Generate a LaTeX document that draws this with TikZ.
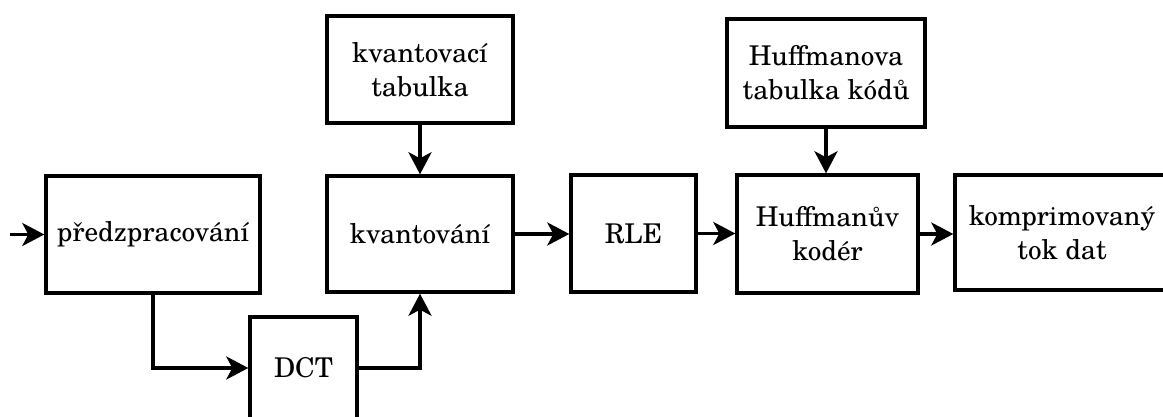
\documentclass[tikz,border=0pt]{standalone}
\usepackage{fontspec}
\setmainfont{texgyreschola}[Extension=.otf, UprightFont=*-regular, BoldFont=*-bold]
\usetikzlibrary{arrows.meta}
\begin{document}
\begin{tikzpicture}[x=0.5pt, y=-0.5pt,
  blok/.style={draw, line width=1.7pt, inner sep=0pt, align=center,
    font=\fontsize{13.6}{17}\selectfont},
  tok/.style={line width=1.7pt, -{Stealth[length=11pt, width=11.5pt, inset=3pt]}}]
\useasboundingbox (0,0) rectangle (1163,417);
% processing blocks
\node[blok, minimum width=107pt, minimum height=58.5pt] (pre) at (153,234.5) {předzpracování};
\node[blok, minimum width=53.5pt, minimum height=51pt] (dct) at (303.5,368) {DCT};
\node[blok, minimum width=93pt, minimum height=53.5pt] (qt) at (420,69.5) {kvantovací\\tabulka};
\node[blok, minimum width=93pt, minimum height=58pt] (q) at (420,234) {kvantování};
\node[blok, minimum width=62.5pt, minimum height=58.5pt] (rle) at (633.5,233.5) {RLE};
\node[blok, minimum width=99pt, minimum height=54pt] (ht) at (826,73) {Huffmanova\\tabulka kódů};
\node[blok, minimum width=90.5pt, minimum height=59pt] (hc) at (827.5,234) {Huffmanův\\kodér};
\node[blok, minimum width=107pt, minimum height=57.5pt] (out) at (1062,232.5) {komprimovaný\\tok dat};
\coordinate (in) at (10,234.5);
% data flow
\draw[tok] (in) -- (pre.west);
\draw[tok] (pre.south) |- (dct.west);
\draw[tok] (dct.east) -| (q.south);
\draw[tok] (qt.south) -- (q.north);
\draw[tok] (q.east) -- (q.east -| rle.west);
\draw[tok] (rle.east) -- (rle.east -| hc.west);
\draw[tok] (ht.south) -- (ht.south |- hc.north);
\draw[tok] (hc.east) -- (hc.east -| out.west);
\end{tikzpicture}
\end{document}
